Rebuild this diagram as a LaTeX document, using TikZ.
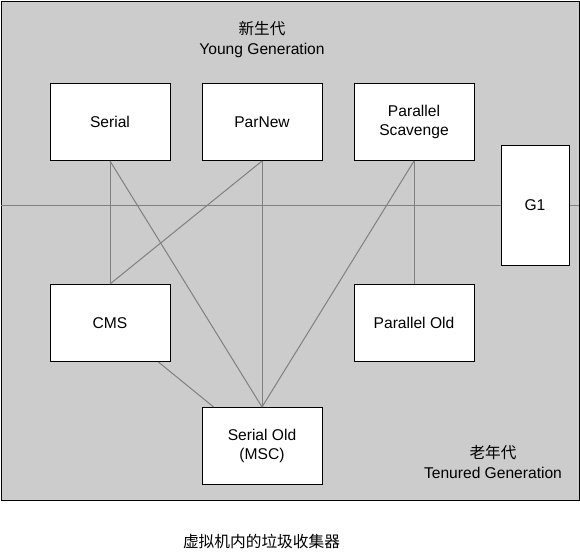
\documentclass[tikz,border=0pt]{standalone}
\usepackage{fontspec}
\setmainfont{Liberation Sans}
\newfontfamily\cjk{Noto Sans CJK SC}
\usetikzlibrary{calc}
\definecolor{bggray}{HTML}{CCCCCC}
\definecolor{linegray}{HTML}{808080}
\begin{document}
\begin{tikzpicture}[x=1pt,y=-1pt,
  gcbox/.style={draw=black,fill=white,line width=1pt,inner sep=0pt,align=center,
    minimum width=120pt,minimum height=77pt,font=\fontsize{15.6}{19.5}\selectfont},
  conn/.style={draw=linegray,line width=1pt},
  lbl/.style={inner sep=0pt,align=center,font=\fontsize{15.6}{19.5}\selectfont}]
\useasboundingbox (0,0) rectangle (580,557);
\draw[fill=bggray,draw=black,line width=1pt] (1,1) rectangle (579,500);
\coordinate (hl) at (1,205);
\coordinate (hr) at (579,205);
\draw[conn] (hl) -- (hr);
\node[lbl] (young) at (262,39.5) {{\cjk 新生代}\\Young Generation};
\node[lbl] (old) at (493,462) {{\cjk 老年代}\\Tenured Generation};
\node[gcbox] (serial) at (110,122) {Serial};
\node[gcbox] (parnew) at (262,122) {ParNew};
\node[gcbox] (ps) at (414,122) {Parallel\\Scavenge};
\node[gcbox,minimum width=68pt,minimum height=120pt] (g1) at (535,205) {G1};
\node[gcbox] (cms) at (110,323) {CMS};
\node[gcbox] (po) at (414,323) {Parallel Old};
\node[gcbox] (so) at (262,446) {Serial Old\\(MSC)};
\node[lbl,font=\cjk\fontsize{15.7}{19}\selectfont] (cap) at (261.5,541) {虚拟机内的垃圾收集器};
\draw[conn] (serial.south) -- (cms.north);
\draw[conn] (serial.south) -- (so.north);
\draw[conn] (parnew.south) -- (cms.north);
\draw[conn] (parnew.south) -- (so.north);
\draw[conn] (ps.south) -- (so.north);
\draw[conn] (ps.south) -- (po.north);
\draw[conn] ($(cms.south west)!0.9!(cms.south east)$) -- ($(so.north west)!0.1!(so.north east)$);
\end{tikzpicture}
\end{document}
